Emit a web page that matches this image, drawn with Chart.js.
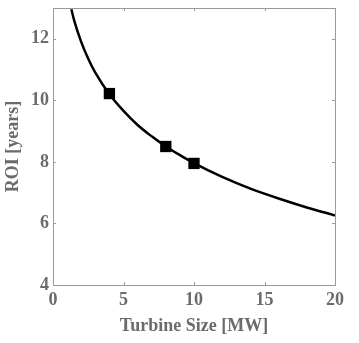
<!DOCTYPE html>
<html>
<head>
<meta charset="utf-8">
<script src="https://cdn.jsdelivr.net/npm/chart.js@4"></script>
<style>
  html, body { margin: 0; padding: 0; background: #fff; }
  #wrap { width: 359px; height: 343px; }
</style>
</head>
<body>
<div id="wrap"><canvas id="roiChart" width="359" height="343"></canvas></div>
<script>
// curve
const curveX = [1.3, 1.5, 2, 2.5, 3, 4, 5, 6, 7, 8, 9, 10, 12, 14, 16, 18, 20];
const curveY = [12.96, 12.6, 11.9, 11.35, 10.9, 10.2, 9.66, 9.2, 8.83, 8.5, 8.22, 7.96, 7.51, 7.13, 6.81, 6.52, 6.26];

// square markers
const markerX = [4, 8, 10];
const markerY = [10.22, 8.5, 7.95];

const xTicks = [0, 5, 10, 15, 20];
const yTicks = [4, 6, 8, 10, 12];

const textGray = "#6b6b6b";
const frameGray = "#9a9a9a";
const serifFont = { family: "'Liberation Serif', 'Times New Roman', serif", size: 18, weight: "bold" };

// frame + small inward ticks on all four sides
const framePlugin = {
  id: "frame",
  afterDatasetsDraw(chart) {
    const { ctx, chartArea: a, scales } = chart;
    ctx.save();
    ctx.strokeStyle = frameGray;
    ctx.lineWidth = 1;
    ctx.strokeRect(a.left + 0.5, a.top + 0.5, a.right - a.left, a.bottom - a.top);
    ctx.beginPath();
    xTicks.forEach(v => {
      const px = Math.round(scales.x.getPixelForValue(v)) + 0.5;
      ctx.moveTo(px, a.bottom); ctx.lineTo(px, a.bottom - 3);
      ctx.moveTo(px, a.top);    ctx.lineTo(px, a.top + 3);
    });
    yTicks.forEach(v => {
      const py = Math.round(scales.y.getPixelForValue(v)) + 0.5;
      ctx.moveTo(a.left, py);  ctx.lineTo(a.left + 3, py);
      ctx.moveTo(a.right, py); ctx.lineTo(a.right - 3, py);
    });
    ctx.stroke();
    ctx.restore();
  }
};

new Chart(document.getElementById("roiChart").getContext("2d"), {
  type: "scatter",
  data: {
    datasets: [
      {
        label: "markers",
        data: markerX.map((x, i) => ({ x, y: markerY[i] })),
        showLine: false,
        pointStyle: "rect",
        pointRadius: 8,
        backgroundColor: "#000",
        borderColor: "#000",
        borderWidth: 0,
        order: 0,
      },
      {
        label: "ROI",
        data: curveX.map((x, i) => ({ x, y: curveY[i] })),
        showLine: true,
        borderColor: "#000",
        borderWidth: 2.5,
        pointRadius: 0,
        cubicInterpolationMode: "monotone",
        clip: 0,
        order: 1,
      },
    ],
  },
  options: {
    responsive: false,
    animation: false,
    layout: { padding: { left: 0, right: 24, top: 2, bottom: 0 } },
    plugins: { legend: { display: false }, tooltip: { enabled: false } },
    scales: {
      x: {
        type: "linear",
        min: 0,
        max: 20,
        afterBuildTicks: s => { s.ticks = xTicks.map(v => ({ value: v })); },
        afterFit: s => { s.height = 58; s.paddingLeft = 0; s.paddingRight = 0; },
        grid: { display: false, drawTicks: false },
        border: { display: false },
        ticks: { color: textGray, font: serifFont, padding: 5, maxRotation: 0 },
        title: {
          display: true,
          text: "Turbine Size [MW]",
          color: textGray,
          font: serifFont,
          padding: { top: 0, bottom: 6 },
        },
      },
      y: {
        type: "linear",
        min: 4,
        max: 13,
        afterBuildTicks: s => { s.ticks = yTicks.map(v => ({ value: v })); },
        afterFit: s => { s.width = 53; s.paddingTop = 0; s.paddingBottom = 0; },
        grid: { display: false, drawTicks: false },
        border: { display: false },
        ticks: { color: textGray, font: serifFont, padding: 4 },
        title: {
          display: true,
          text: "ROI [years]",
          color: textGray,
          font: serifFont,
          padding: { top: 3, bottom: 0 },
        },
      },
    },
  },
  plugins: [framePlugin],
});
</script>
</body>
</html>
